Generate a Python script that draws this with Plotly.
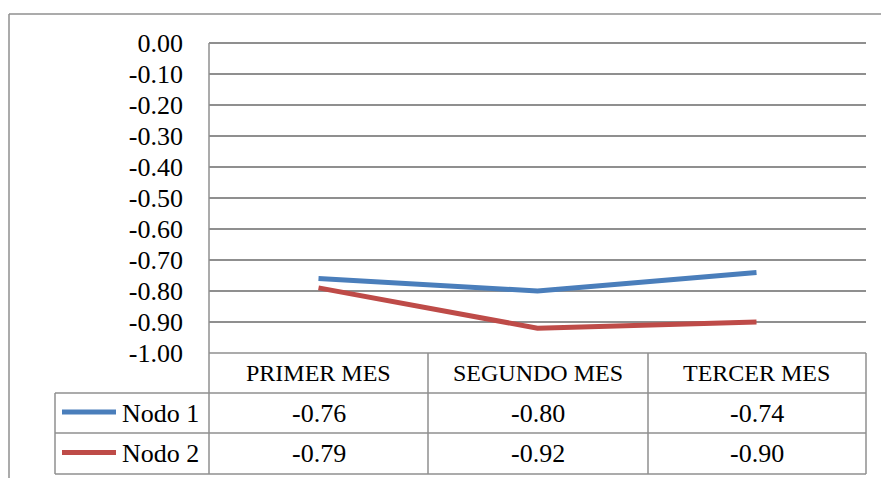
import plotly.graph_objects as go

# Data
months = ["PRIMER MES", "SEGUNDO MES", "TERCER MES"]
series_names = ["Nodo 1", "Nodo 2"]
nodo1 = [-0.76, -0.80, -0.74]
nodo2 = [-0.79, -0.92, -0.90]
y_ticks = [0.0, -0.1, -0.2, -0.3, -0.4, -0.5, -0.6, -0.7, -0.8, -0.9, -1.0]
y_tick_labels = ["0.00", "-0.10", "-0.20", "-0.30", "-0.40", "-0.50",
                 "-0.60", "-0.70", "-0.80", "-0.90", "-1.00"]
colors = ["#4A7EBB", "#BE4B48"]

W, H = 881, 478
FONT = "Liberation Serif"
GRID = "#8f8f8f"


def px(x):
    return x / W


def py(y):
    return 1 - y / H


# Pixel layout of the chart frame and data table
plot_left, plot_right = 209, 866
plot_top, plot_bottom = 43, 353
row_lines = [393, 433, 474]
col_lines = [428, 648]
legend_left = 55

fig = go.Figure()
for name, vals, col in zip(series_names, [nodo1, nodo2], colors):
    fig.add_trace(go.Scatter(
        x=months, y=vals, mode="lines", name=name,
        line=dict(color=col, width=5), showlegend=False,
    ))

shapes = []


def hline(y, x0, x1, color=GRID, width=1.5):
    shapes.append(dict(type="line", xref="paper", yref="paper",
                       x0=px(x0), x1=px(x1), y0=py(y), y1=py(y),
                       line=dict(color=color, width=width)))


def vline(x, y0, y1, color=GRID, width=1.5):
    shapes.append(dict(type="line", xref="paper", yref="paper",
                       x0=px(x), x1=px(x), y0=py(y0), y1=py(y1),
                       line=dict(color=color, width=width)))


# outer chart frame
hline(14, 9, 881)
vline(9, 14, 478)

# data table grid
hline(plot_bottom, plot_left, plot_right)
for y in row_lines:
    hline(y, legend_left, plot_right)
vline(plot_left, plot_top, row_lines[-1])
vline(legend_left, row_lines[0], row_lines[-1])
for x in col_lines + [plot_right]:
    vline(x, plot_bottom, row_lines[-1])

annotations = []
head_font = dict(family=FONT, size=24, color="black")
num_font = dict(family=FONT, size=26, color="black")

# header row with month names
header_y = (plot_bottom + row_lines[0]) / 2
for m in months:
    annotations.append(dict(x=m, xref="x", y=py(header_y), yref="paper",
                            text=m, showarrow=False, font=head_font,
                            xanchor="center", yanchor="middle"))

# value rows with legend keys
row_centers = [(row_lines[0] + row_lines[1]) / 2, (row_lines[1] + row_lines[2]) / 2]
for name, vals, col, rc in zip(series_names, [nodo1, nodo2], colors, row_centers):
    shapes.append(dict(type="line", xref="paper", yref="paper",
                       x0=px(62), x1=px(116), y0=py(rc - 1), y1=py(rc - 1),
                       line=dict(color=col, width=5)))
    annotations.append(dict(x=px(201), xref="paper", y=py(rc), yref="paper",
                            text=name, showarrow=False, font=num_font,
                            xanchor="right", yanchor="middle"))
    for m, v in zip(months, vals):
        annotations.append(dict(x=m, xref="x", y=py(rc), yref="paper",
                                text=f"{v:.2f}", showarrow=False, font=num_font,
                                xanchor="center", yanchor="middle"))

fig.update_layout(
    width=W, height=H,
    margin=dict(l=0, r=0, t=0, b=0, autoexpand=False),
    paper_bgcolor="white", plot_bgcolor="white",
    font=dict(family=FONT, size=24, color="black"),
    xaxis=dict(domain=[px(plot_left), px(plot_right)], range=[-0.5, 2.5],
               showgrid=False, showticklabels=False, zeroline=False,
               showline=False, fixedrange=True, automargin=False),
    yaxis=dict(domain=[py(plot_bottom), py(plot_top)], range=[-1.0, 0.0],
               tickvals=y_ticks, ticktext=y_tick_labels,
               showgrid=True, gridcolor=GRID, gridwidth=1.5,
               zeroline=True, zerolinecolor=GRID, zerolinewidth=1.5,
               showline=False, ticks="", ticklabelstandoff=25,
               automargin=False,
               tickfont=dict(family=FONT, size=26, color="black")),
    shapes=shapes,
    annotations=annotations,
)

fig.write_html("out.html")
